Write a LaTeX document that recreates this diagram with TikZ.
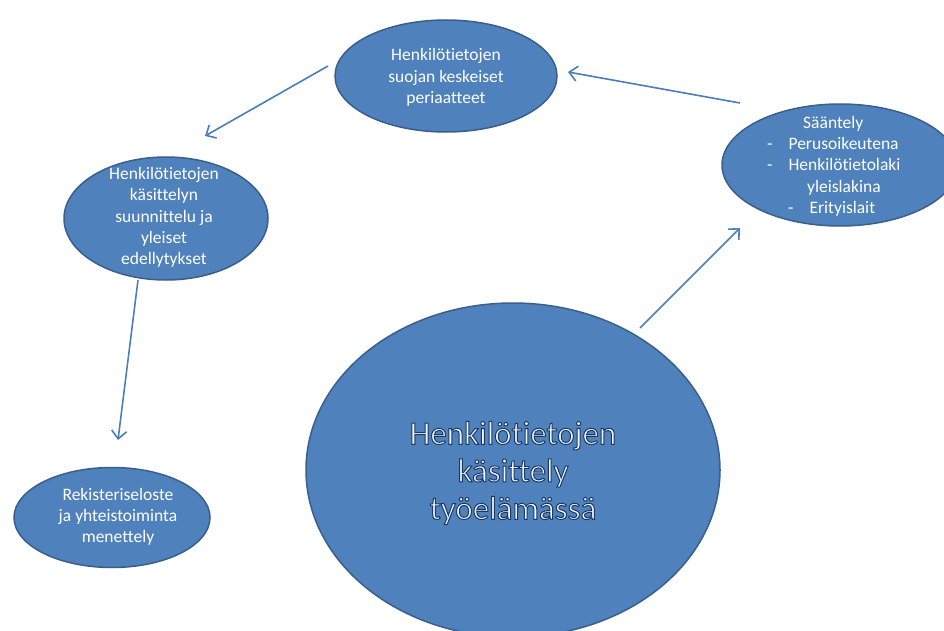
\documentclass[tikz,border=0pt]{standalone}
\usepackage{fontspec}
\setmainfont[Ligatures=NoCommon]{Carlito}
\usetikzlibrary{shapes.geometric,arrows.meta}
\definecolor{efill}{HTML}{4F81BD}
\definecolor{eline}{HTML}{3A5F8C}
\definecolor{arr}{HTML}{4A7EBB}
\definecolor{bigtext}{HTML}{F2F6FA}
\newcommand\outlinetext{\special{pdf:literal 2 Tr 1.0 w 0.10 0.22 0.40 RG}}
\begin{document}
\begin{tikzpicture}[x=1pt,y=-1pt,
  oval/.style={ellipse,fill=efill,draw=eline,line width=1.5pt,inner sep=0pt},
  lbl/.style={text=white,align=center,font=\fontsize{17.5}{21.3}\selectfont,inner sep=0pt},
  biglbl/.style={text=bigtext,align=center,font=\fontsize{33}{37.5}\selectfont,inner sep=0pt},
  conn/.style={draw=arr,line width=1.6pt,-{Straight Barb[length=8pt,width=15pt,line width=1.6pt]}}]
\useasboundingbox (0,0) rectangle (944,631);
% ellipses
\node[oval,minimum width=222pt,minimum height=112pt] (top) at (446,76) {};
\node[oval,minimum width=236pt,minimum height=122pt] (right) at (840,165) {};
\node[oval,minimum width=204pt,minimum height=123pt] (mid) at (166,218.5) {};
\node[oval,minimum width=196pt,minimum height=100pt] (low) at (112,517.5) {};
\node[oval,minimum width=414pt,minimum height=334pt] (big) at (513,470) {};
% labels
\node[lbl] (toplbl) at (446,77.5) {Henkilötietojen\\suojan keskeiset\\periaatteet};
\node[lbl] (midlbl) at (164,217.5) {Henkilötietojen\\käsittelyn\\suunnittelu ja\\yleiset\\edellytykset};
\node[lbl] (lowlbl) at (118,517) {Rekisteriseloste\\ja yhteistoiminta\\menettely};
\node[lbl,align=left,anchor=north west] (rightlbl) at (767,116) {\hspace*{36pt}Sääntely\\-\hspace{16pt}Perusoikeutena\\-\hspace{16pt}Henkilötietolaki\\\hspace*{40pt}yleislakina\\\hspace*{21pt}-\hspace{16pt}Erityislait};
\node[biglbl] (biglbl) at (513,473) {\outlinetext Henkilötietojen\\\outlinetext käsittely\\\outlinetext työelämässä};
% arrow end points
\coordinate (a1s) at (328,66);  \coordinate (a1e) at (205,136);
\coordinate (a2s) at (740,103); \coordinate (a2e) at (568,72);
\coordinate (a3s) at (138,280); \coordinate (a3e) at (118,440);
\coordinate (a4s) at (640,328); \coordinate (a4e) at (740,228);
\draw[conn] (a1s) -- (a1e);
\draw[conn] (a2s) -- (a2e);
\draw[conn] (a3s) -- (a3e);
\draw[conn] (a4s) -- (a4e);
\end{tikzpicture}
\end{document}
